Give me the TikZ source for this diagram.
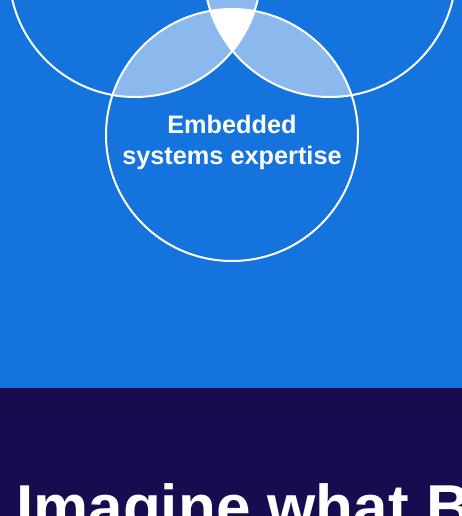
\documentclass[tikz,border=0pt]{standalone}
\usepackage{fontspec}
\setmainfont{Liberation Sans}
\definecolor{bgblue}{RGB}{20,115,220}
\definecolor{lens}{RGB}{139,185,238}
\definecolor{navy}{RGB}{24,11,80}
\begin{document}
\begin{tikzpicture}[x=1pt, y=-1pt, ring/.style={draw=white, line width=2pt}]
            \useasboundingbox (0, 0) rectangle (462, 516);
            \clip (0, 0) rectangle (462, 516);
            \fill[bgblue] (0, 0) rectangle (462, 388);
            \fill[navy] (0, 388) rectangle (462, 516);
            \coordinate (a) at (135, -29);
            \coordinate (b) at (330, -29);
            \coordinate (c) at (232, 135);
            \begin{scope}
                \clip (a) circle[radius=126pt];
                \fill[lens] (b) circle[radius=126pt];
                \fill[lens] (c) circle[radius=126pt];
            \end{scope}
            \begin{scope}
                \clip (b) circle[radius=126pt];
                \fill[lens] (c) circle[radius=126pt];
            \end{scope}
            \begin{scope}
                \clip (a) circle[radius=126pt];
                \clip (b) circle[radius=126pt];
                \fill[white] (c) circle[radius=126pt];
            \end{scope}
            \draw[ring] (a) circle[radius=126pt];
            \draw[ring] (b) circle[radius=126pt];
            \draw[ring] (c) circle[radius=126pt];
            \node (label) at (232, 142) [inner sep=0, align=center, text=white, font=\bfseries\fontsize{25.3}{31}\selectfont] {Embedded\\systems expertise};
            \node (title) at (16, 528) [anchor=base west, inner sep=0, text=white, font=\bfseries\fontsize{62}{70}\selectfont] {Imagine what B};
        \end{tikzpicture}
\end{document}
